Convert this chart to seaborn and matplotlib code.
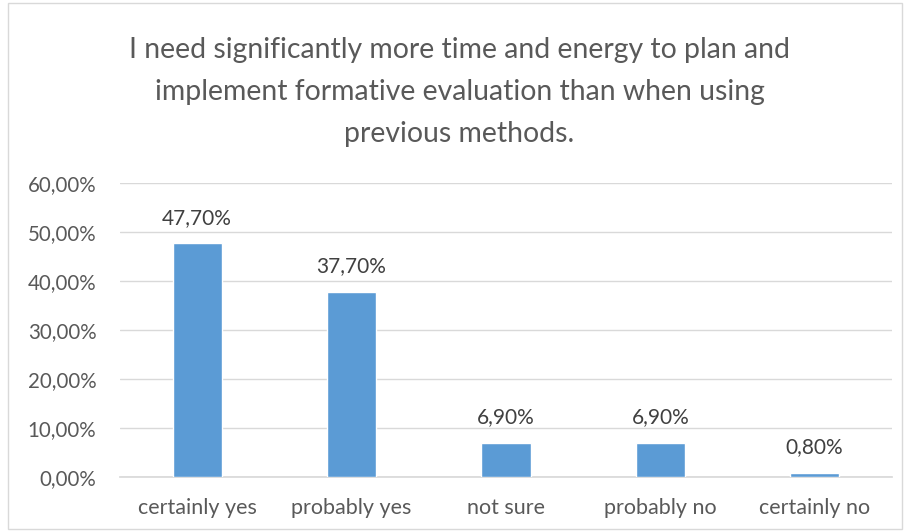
import matplotlib
matplotlib.use("Agg")
import matplotlib.pyplot as plt
import seaborn as sns
import pandas as pd
from matplotlib.patches import Rectangle

categories = ["certainly yes", "probably yes", "not sure", "probably no", "certainly no"]
values = [47.7, 37.7, 6.9, 6.9, 0.8]
yticks = [0, 10, 20, 30, 40, 50, 60]
title = "I need significantly more time and energy to plan and\nimplement formative evaluation than when using\nprevious methods."

sns.set_theme(style="white")
plt.rcParams['font.family'] = ['Lato', 'DejaVu Sans']

df = pd.DataFrame({"cat": categories, "val": values})

fig = plt.figure(figsize=(9.10, 5.32), dpi=100)
ax = fig.add_axes([0.1319, 0.1034, 0.8481, 0.5526])
sns.barplot(data=df, x="cat", y="val", color="#5B9BD5", width=0.32, saturation=1, ax=ax, zorder=3)

ax.set_ylim(0, 60)
ax.set_xlim(-0.5, 4.5)
ax.set_yticks(yticks)
ax.set_yticklabels([f"{v:.2f}%".replace(".", ",") for v in yticks], color="#595959", fontsize=14.8)
ax.set_xticklabels(categories, color="#595959", fontsize=15.5)
ax.set_xlabel("")
ax.set_ylabel("")
ax.grid(axis="y", color="#D9D9D9", linewidth=1, zorder=0)
for s in ["top", "right", "left"]:
    ax.spines[s].set_visible(False)
ax.spines["bottom"].set_color("#D9D9D9")
ax.tick_params(axis="y", length=0, pad=17)
ax.tick_params(axis="x", length=0, pad=15)

for i, v in enumerate(values):
    ax.text(i, v + 3.2, f"{v:.2f}%".replace(".", ","), ha="center", va="bottom",
            color="#404040", fontsize=15)

fig.text(0.505, 0.93, title, ha="center", va="top", fontsize=20.4, color="#595959", linespacing=1.75)

fig.patches.append(Rectangle((0.009, 0.005), 0.982, 0.99, transform=fig.transFigure,
                             fill=False, edgecolor="#D9D9D9", linewidth=1))

fig.savefig("out.png", dpi=100)
